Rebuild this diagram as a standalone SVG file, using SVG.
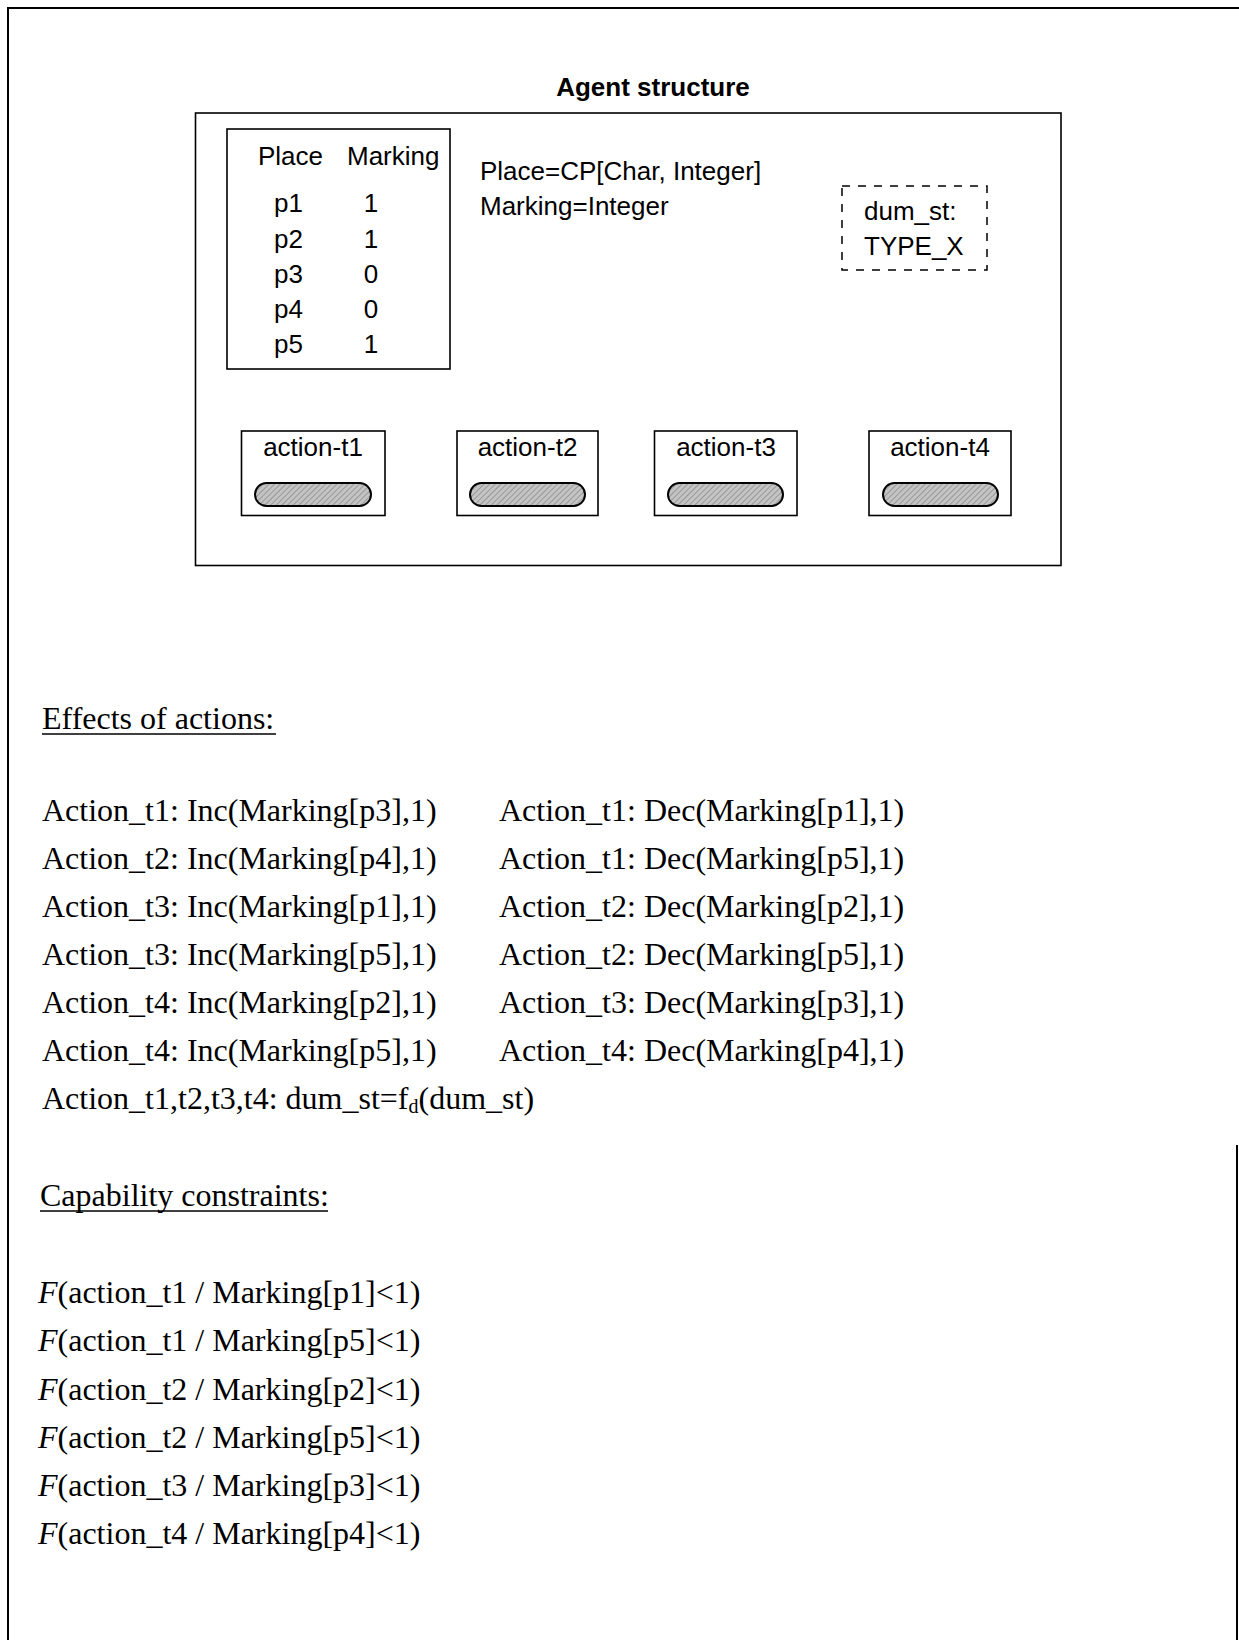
<svg xmlns="http://www.w3.org/2000/svg" width="1239" height="1640" viewBox="0 0 1239 1640">
<style>
.sans{font-family:"Liberation Sans",Arial,sans-serif;font-size:26px;fill:#000}
.serif{font-family:"Liberation Serif","Times New Roman",serif;font-size:32px;fill:#000}
.box{fill:none;stroke:#000;stroke-width:1.6}
.dash{fill:none;stroke:#000;stroke-width:1.5;stroke-dasharray:8,8}
.pill{fill:url(#hatch);stroke:#000;stroke-width:2}
.ul{stroke:#000;stroke-width:1.5}
</style>
<defs>
<pattern id="hatch" width="4" height="4" patternUnits="userSpaceOnUse" patternTransform="rotate(45)">
<rect width="4" height="4" fill="#c4c4c4"/>
<line x1="0" y1="0" x2="0" y2="4" stroke="#8a8a8a" stroke-width="1.5"/>
</pattern>
</defs>
<rect width="1239" height="1640" fill="#fff"/>
<g id="frame">
<path d="M8,1640 V8 H1239" fill="none" stroke="#000" stroke-width="2"/>
<line x1="1237" y1="1145" x2="1237" y2="1640" stroke="#000" stroke-width="2"/>
</g>
<g id="agent-structure">
<text class="sans" x="653" y="96" text-anchor="middle" font-weight="bold" font-size="25.5">Agent structure</text>
<rect class="box" x="195.5" y="113" width="865.5" height="452.5"/>
</g>
<g id="place-table">
<rect class="box" x="227" y="129" width="223" height="240"/>
<text class="sans" x="258" y="165">Place</text>
<text class="sans" x="347" y="165">Marking</text>
<text class="sans" x="274" y="212">p1</text><text class="sans" x="371" y="212" text-anchor="middle">1</text>
<text class="sans" x="274" y="248">p2</text><text class="sans" x="371" y="248" text-anchor="middle">1</text>
<text class="sans" x="274" y="283">p3</text><text class="sans" x="371" y="283" text-anchor="middle">0</text>
<text class="sans" x="274" y="318">p4</text><text class="sans" x="371" y="318" text-anchor="middle">0</text>
<text class="sans" x="274" y="353">p5</text><text class="sans" x="371" y="353" text-anchor="middle">1</text>
</g>
<g id="types">
<text class="sans" x="480" y="180">Place=CP[Char, Integer]</text>
<text class="sans" x="480" y="215">Marking=Integer</text>
</g>
<g id="dum-st">
<rect class="dash" x="842" y="186" width="145" height="84"/>
<text class="sans" x="864" y="220">dum_st:</text>
<text class="sans" x="864" y="255">TYPE_X</text>
</g>
<g id="action-t1">
<rect class="box" x="241.5" y="431" width="143.5" height="84.5"/>
<text class="sans" x="313" y="456" text-anchor="middle">action-t1</text>
<rect class="pill" x="255" y="483" width="116" height="23" rx="11.5"/>
</g>
<g id="action-t2">
<rect class="box" x="457" y="431" width="141" height="84.5"/>
<text class="sans" x="527.5" y="456" text-anchor="middle">action-t2</text>
<rect class="pill" x="470" y="483" width="115" height="23" rx="11.5"/>
</g>
<g id="action-t3">
<rect class="box" x="654.5" y="431" width="142.5" height="84.5"/>
<text class="sans" x="726" y="456" text-anchor="middle">action-t3</text>
<rect class="pill" x="668" y="483" width="115" height="23" rx="11.5"/>
</g>
<g id="action-t4">
<rect class="box" x="869" y="431" width="142" height="84.5"/>
<text class="sans" x="940" y="456" text-anchor="middle">action-t4</text>
<rect class="pill" x="883" y="483" width="115" height="23" rx="11.5"/>
</g>
<g id="connectors"></g>
<g id="effects">
<text class="serif" x="42" y="729">Effects of actions:</text>
<line class="ul" x1="42" y1="734" x2="276" y2="734"/>
<text class="serif" x="42" y="821">Action_t1: Inc(Marking[p3],1)</text>
<text class="serif" x="42" y="869">Action_t2: Inc(Marking[p4],1)</text>
<text class="serif" x="42" y="917">Action_t3: Inc(Marking[p1],1)</text>
<text class="serif" x="42" y="965">Action_t3: Inc(Marking[p5],1)</text>
<text class="serif" x="42" y="1013">Action_t4: Inc(Marking[p2],1)</text>
<text class="serif" x="42" y="1061">Action_t4: Inc(Marking[p5],1)</text>
<text class="serif" x="499" y="821">Action_t1: Dec(Marking[p1],1)</text>
<text class="serif" x="499" y="869">Action_t1: Dec(Marking[p5],1)</text>
<text class="serif" x="499" y="917">Action_t2: Dec(Marking[p2],1)</text>
<text class="serif" x="499" y="965">Action_t2: Dec(Marking[p5],1)</text>
<text class="serif" x="499" y="1013">Action_t3: Dec(Marking[p3],1)</text>
<text class="serif" x="499" y="1061">Action_t4: Dec(Marking[p4],1)</text>
<text class="serif" x="42" y="1109">Action_t1,t2,t3,t4: dum_st=f<tspan font-size="20" dy="4">d</tspan><tspan dy="-4">(dum_st)</tspan></text>
</g>
<g id="constraints">
<text class="serif" x="40" y="1206">Capability constraints:</text>
<line class="ul" x1="40" y1="1211" x2="328" y2="1211"/>
<text class="serif" x="38" y="1303"><tspan font-style="italic">F</tspan>(action_t1 / Marking[p1]&lt;1)</text>
<text class="serif" x="38" y="1351"><tspan font-style="italic">F</tspan>(action_t1 / Marking[p5]&lt;1)</text>
<text class="serif" x="38" y="1400"><tspan font-style="italic">F</tspan>(action_t2 / Marking[p2]&lt;1)</text>
<text class="serif" x="38" y="1448"><tspan font-style="italic">F</tspan>(action_t2 / Marking[p5]&lt;1)</text>
<text class="serif" x="38" y="1496"><tspan font-style="italic">F</tspan>(action_t3 / Marking[p3]&lt;1)</text>
<text class="serif" x="38" y="1544"><tspan font-style="italic">F</tspan>(action_t4 / Marking[p4]&lt;1)</text>
</g>
</svg>
